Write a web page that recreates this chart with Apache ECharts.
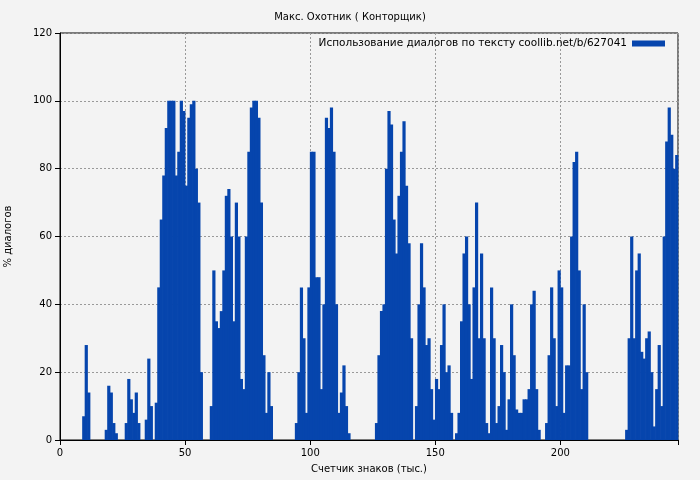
<!DOCTYPE html>
<html><head><meta charset="utf-8">
<script src="https://cdn.jsdelivr.net/npm/echarts@6/dist/echarts.min.js"></script>
<style>html,body{margin:0;background:#f3f3f3}#c{width:700px;height:480px}</style>
</head><body><div id="c"></div>
<script>
var xTicks = [0, 50, 100, 150, 200];
var yTicks = [0, 20, 40, 60, 80, 100, 120];
// % of dialogue per thousand characters, index = thousand
var dialogPct = [
 0,0,0,0,0,0,0,0,0,7, 28,14,0,0,0,0,0,0,3,16,
 14,5,2,0,0,0,5,18,12,8, 14,5,0,0,6,24,10,0,11,45,
 65,78,92,100,100,100,78,85,100,97, 75,95,99,100,80,70,20,0,0,0,
 10,50,35,33,38,50,72,74,60,35, 70,60,18,15,60,85,98,100,100,95,
 70,25,8,20,10,0,0,0,0,0, 0,0,0,0,5,20,45,30,8,45,
 85,85,48,48,15,40,95,92,98,85, 40,8,14,22,10,2,0,0,0,0,
 0,0,0,0,0,0,5,25,38,40, 80,97,93,65,55,72,85,94,75,58,
 30,0,10,40,58,45,28,30,15,6, 18,15,28,40,20,22,8,0,2,8,
 35,55,60,40,18,45,70,30,55,30, 5,2,45,30,5,10,28,20,3,12,
 40,25,9,8,8,12,12,15,40,44, 15,3,0,0,5,25,45,30,10,50,
 45,8,22,22,60,82,85,50,15,40, 20,0,0,0,0,0,0,0,0,0,
 0,0,0,0,0,0,3,30,60,30, 50,55,26,24,30,32,20,4,15,28,
 10,60,88,98,90,80,84
];
var seriesName = 'Использование диалогов по тексту coollib.net/b/627041';

var points = dialogPct.map(function (v, i) { return [i + 0.5, v]; });

var chart = echarts.init(document.getElementById('c'));
var font = 'DejaVu Sans';
chart.setOption({
  backgroundColor: '#f3f3f3',
  animation: false,
  textStyle: { fontFamily: font },
  title: { text: 'Макс. Охотник ( Конторщик)', left: 'center', top: 7,
    textStyle: { fontSize: 10, fontWeight: 'normal', color: '#000', fontFamily: font } },
  legend: { data: [seriesName], right: 30, top: 33, itemWidth: 33, itemHeight: 6, itemGap: 6,
    icon: 'rect', align: 'right', textStyle: { fontSize: 10.5, color: '#000', fontFamily: font } },
  grid: { left: 60, right: 22, top: 33, bottom: 40, show: true, borderColor: '#000', borderWidth: 1,
    outerBoundsMode: 'none', containLabel: false },
  xAxis: {
    type: 'value', min: 0, max: 247, interval: 50,
    name: 'Счетчик знаков (тыс.)', nameLocation: 'middle', nameGap: 24,
    nameTextStyle: { fontSize: 10, color: '#000' },
    axisLine: { lineStyle: { color: '#000' } },
    axisTick: { lineStyle: { color: '#000' } },
    axisLabel: { fontSize: 10, color: '#000', customValues: xTicks },
    splitLine: { show: true, lineStyle: { color: '#999', type: [2, 2] } }
  },
  yAxis: {
    type: 'value', min: 0, max: 120, interval: 20,
    name: '% диалогов', nameLocation: 'middle', nameGap: 47,
    nameTextStyle: { fontSize: 10, color: '#000' },
    axisLine: { show: true, lineStyle: { color: '#000' } },
    axisTick: { show: true, lineStyle: { color: '#000' } },
    axisLabel: { fontSize: 10, color: '#000' },
    splitLine: { show: true, lineStyle: { color: '#999', type: [2, 2] } }
  },
  series: [{
    name: seriesName, type: 'bar', data: points, barWidth: 3.2,
    itemStyle: { color: '#0645ad' }, z: 1
  }]
});
</script></body></html>
